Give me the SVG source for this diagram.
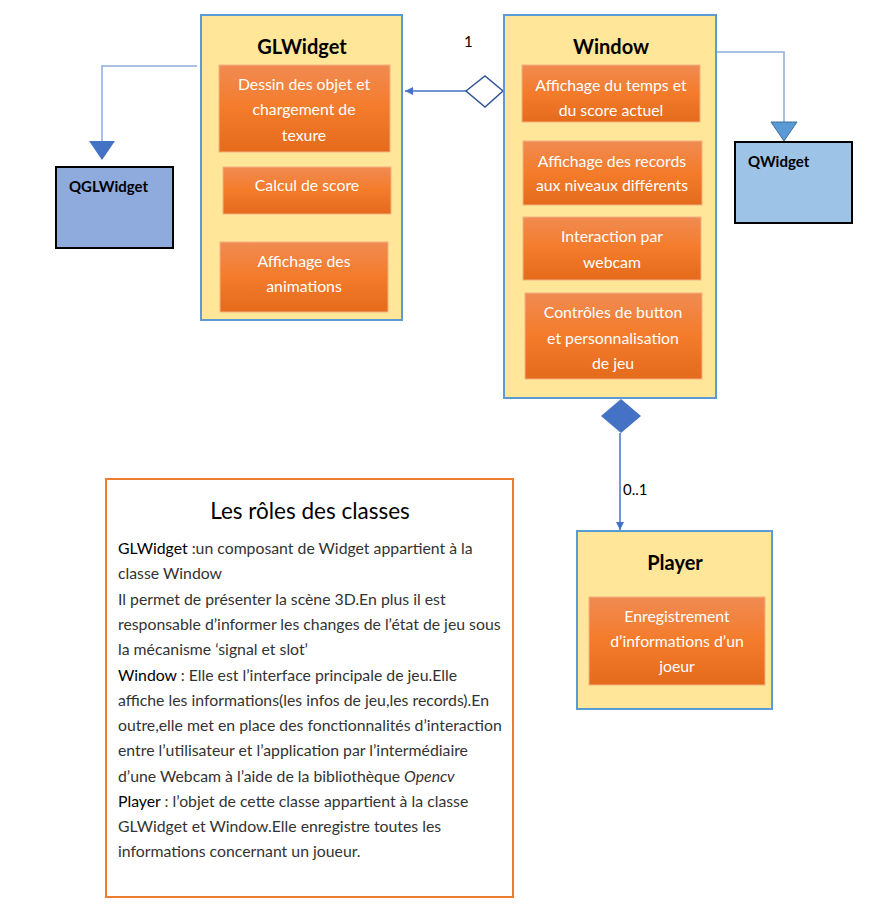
<svg xmlns="http://www.w3.org/2000/svg" width="875" height="920" viewBox="0 0 875 920">
<defs>
<linearGradient id="og" x1="0" y1="0" x2="0" y2="1">
<stop offset="0" stop-color="#f08b52"/>
<stop offset="0.5" stop-color="#f47b2a"/>
<stop offset="1" stop-color="#e46b1c"/>
</linearGradient>
<marker id="ah" viewBox="0 0 10 10" refX="10" refY="5" markerWidth="8" markerHeight="8" markerUnits="userSpaceOnUse" orient="auto">
<path d="M0,0 L10,5 L0,10 z" fill="#4472c4"/>
</marker>
</defs>
<style>
.cls{fill:#ffe699;stroke:#5b9bd5;stroke-width:2}
.sub{fill:url(#og);stroke:#f4b183;stroke-width:1}
.st{font-family:Lato,"Liberation Sans",sans-serif;font-size:15.8px;fill:#ffffff;text-anchor:middle}
.title{font-family:Lato,"Liberation Sans",sans-serif;font-size:20px;font-weight:bold;fill:#000;text-anchor:middle}
.ext{font-family:Lato,"Liberation Sans",sans-serif;font-size:15px;font-weight:bold;fill:#000}
.conn{fill:none;stroke:#8eaadb;stroke-width:1.5}
.lbl{font-family:Lato,"Liberation Sans",sans-serif;font-size:15px;fill:#000}
.body{font-family:Lato,"Liberation Sans",sans-serif;font-size:15.8px;fill:#333}
</style>
<rect width="875" height="920" fill="#ffffff"/>

<g id="connectors">
<polyline class="conn" points="197,66 102,66 102,141"/>
<polygon points="89,141 115,141 102,160" fill="#4472c4"/>
<polyline class="conn" points="716,52 784,52 784,122"/>
<polygon points="771,122 797,122 784,141" fill="#5b9bd5" stroke="#41719c" stroke-width="1"/>
<line x1="466" y1="91" x2="405" y2="91" stroke="#4472c4" stroke-width="1.5" marker-end="url(#ah)"/>
<polygon points="466,91 485,76 503,91 485,107" fill="#ffffff" stroke="#2f5597" stroke-width="1.5"/>
<line x1="620" y1="433" x2="620" y2="530" stroke="#4472c4" stroke-width="1.5" marker-end="url(#ah)"/>
<polygon points="601,416 621,399 641,416 621,433" fill="#4472c4"/>
<text class="lbl" x="464" y="47">1</text>
<text class="lbl" x="623" y="495">0..1</text>
</g>

<g id="QGLWidget">
<rect x="56" y="167" width="117" height="81" fill="#8faadc" stroke="#000" stroke-width="2"/>
<text class="ext" x="69" y="192">QGLWidget</text>
</g>

<g id="GLWidget">
<rect class="cls" x="201" y="15" width="201" height="305"/>
<text class="title" x="302" y="54">GLWidget</text>
<rect class="sub" x="219" y="65" width="171" height="87"/>
<text class="st" x="304" y="90">Dessin des objet et</text>
<text class="st" x="304" y="115">chargement de</text>
<text class="st" x="304" y="141">texure</text>
<rect class="sub" x="223" y="167" width="168" height="47"/>
<text class="st" x="307" y="191">Calcul de score</text>
<rect class="sub" x="220" y="242" width="168" height="70"/>
<text class="st" x="304" y="267">Affichage des</text>
<text class="st" x="304" y="292">animations</text>
</g>

<g id="Window">
<rect class="cls" x="504" y="15" width="212" height="383"/>
<text class="title" x="611" y="54">Window</text>
<rect class="sub" x="522" y="65" width="178" height="57"/>
<text class="st" x="611" y="91">Affichage du temps et</text>
<text class="st" x="611" y="116">du score actuel</text>
<rect class="sub" x="523" y="141" width="179" height="64"/>
<text class="st" x="612" y="167">Affichage des records</text>
<text class="st" x="612" y="191">aux niveaux différents</text>
<rect class="sub" x="523" y="217" width="178" height="63"/>
<text class="st" x="612" y="242">Interaction par</text>
<text class="st" x="612" y="268">webcam</text>
<rect class="sub" x="525" y="293" width="177" height="86"/>
<text class="st" x="613" y="318">Contrôles de button</text>
<text class="st" x="613" y="344">et personnalisation</text>
<text class="st" x="613" y="369">de jeu</text>
</g>

<g id="QWidget">
<rect x="735" y="142" width="117" height="81" fill="#9dc3e6" stroke="#000" stroke-width="2"/>
<text class="ext" x="748" y="167">QWidget</text>
</g>

<g id="Player">
<rect class="cls" x="577" y="531" width="195" height="178"/>
<text class="title" x="675" y="570">Player</text>
<rect class="sub" x="589" y="597" width="176" height="88"/>
<text class="st" x="677" y="622">Enregistrement</text>
<text class="st" x="677" y="647">d’informations d’un</text>
<text class="st" x="677" y="672">joeur</text>
</g>

<g id="roles">
<rect x="106" y="479" width="407" height="418" fill="#ffffff" stroke="#ed7d31" stroke-width="2"/>
<text x="310" y="519" font-family="Lato,'Liberation Sans',sans-serif" font-size="22.5" fill="#000" text-anchor="middle">Les rôles des classes</text>
<text class="body" x="118" y="554"><tspan fill="#000">GLWidget</tspan> :un composant de Widget appartient à la</text>
<text class="body" x="118" y="579">classe Window</text>
<text class="body" x="118" y="605">Il permet de présenter la scène 3D.En plus il est</text>
<text class="body" x="118" y="630">responsable d’informer les changes de l’état de jeu sous</text>
<text class="body" x="118" y="655">la mécanisme ‘signal et slot’</text>
<text class="body" x="118" y="681"><tspan fill="#000">Window</tspan> : Elle est l’interface principale de jeu.Elle</text>
<text class="body" x="118" y="706">affiche les informations(les infos de jeu,les records).En</text>
<text class="body" x="118" y="731">outre,elle met en place des fonctionnalités d’interaction</text>
<text class="body" x="118" y="756">entre l’utilisateur et l’application par l’intermédiaire</text>
<text class="body" x="118" y="782">d’une Webcam à l’aide de la bibliothèque <tspan font-style="italic">Opencv</tspan></text>
<text class="body" x="118" y="807"><tspan fill="#000">Player</tspan> : l’objet de cette classe appartient à la classe</text>
<text class="body" x="118" y="832">GLWidget et Window.Elle enregistre toutes les</text>
<text class="body" x="118" y="857">informations concernant un joueur.</text>
</g>
</svg>
